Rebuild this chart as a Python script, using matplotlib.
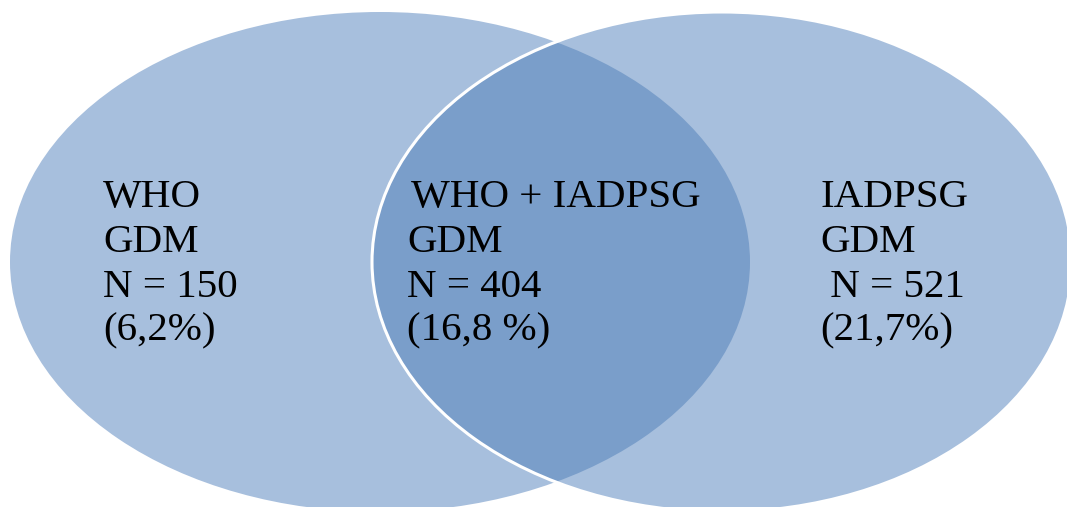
import matplotlib
matplotlib.use("Agg")
import matplotlib.pyplot as plt
from matplotlib.patches import Ellipse

# set labels and counts
GROUPS = ["WHO", "WHO + IADPSG", "IADPSG"]
COUNTS = [150, 404, 521]
PCTS = ["(6,2%)", "(16,8 %)", "(21,7%)"]
N_PREFIX = ["N = ", "N = ", " N = "]

LIGHT = "#A7BFDD"
DARK = "#7A9ECA"

W, H = 1067, 507
fig = plt.figure(figsize=(W / 100, H / 100), dpi=100)
ax = fig.add_axes([0, 0, 1, 1])
ax.set_xlim(0, W)
ax.set_ylim(H, 0)
ax.axis("off")

# left (WHO) and right (IADPSG) sets
left = Ellipse((380, 262), 740, 500, facecolor=LIGHT, edgecolor="none", zorder=1)
right = Ellipse((722, 262), 700, 500, facecolor=LIGHT, edgecolor="none", zorder=2)
ax.add_patch(left)
ax.add_patch(right)

# overlap, darker
overlap = Ellipse((722, 262), 700, 500, facecolor=DARK, edgecolor="none", zorder=3)
ax.add_patch(overlap)
overlap.set_clip_path(left)

# white outline of the right set
ax.add_patch(Ellipse((722, 262), 700, 500, fill=False, edgecolor="white", lw=2.2, zorder=4))

x_pos = [103, 407, 820]
baselines = [207, 252, 297, 340]
font = dict(family="Liberation Serif", fontsize=29.5, color="black", va="baseline", ha="left", zorder=5)

for i, g in enumerate(GROUPS):
    lines = [g, "GDM", f"{N_PREFIX[i]}{COUNTS[i]}", PCTS[i]]
    for j, s in enumerate(lines):
        x = x_pos[i] + (4 if i == 1 and j == 0 else 0)
        ax.text(x, baselines[j], s, **font)

fig.savefig("out.png", dpi=100)
